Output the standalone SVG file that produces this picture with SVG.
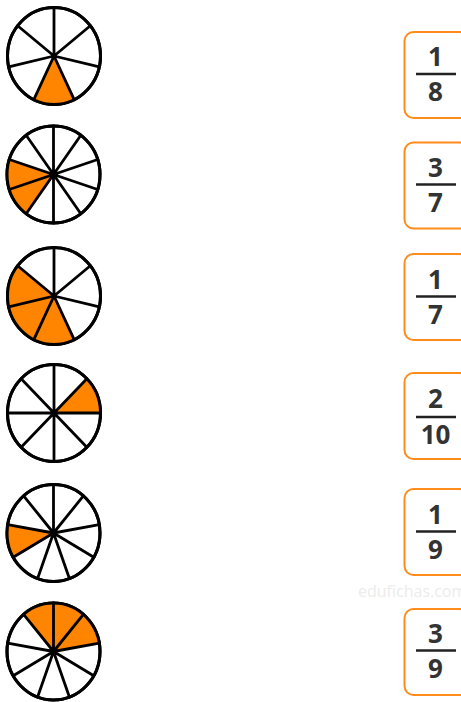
<svg xmlns="http://www.w3.org/2000/svg" width="461" height="702" viewBox="0 0 461 702">
<style>
.rim{fill:#fff;stroke:#000;stroke-width:3}
.sp{stroke:#000;stroke-width:2.8;fill:none;stroke-linecap:round}
.sh{fill:#ff8400;stroke:none}
.box{fill:#fff;stroke:#ff8c1a;stroke-width:2}
.bar{stroke:#222;stroke-width:2.6}
.dg{font-family:"Open Sans","DejaVu Sans",sans-serif;font-weight:bold;font-size:26px;fill:#333;text-anchor:middle}
.wm{font-family:"Open Sans","DejaVu Sans",sans-serif;font-size:16px;fill:#ececec}
</style>
<rect width="461" height="702" fill="#fff"/>
<text class="wm" x="358" y="597">edufichas.com</text>
<g id="pie1">
<ellipse class="rim" cx="54" cy="56" rx="46.5" ry="48.5"/>
<path class="sh" d="M54,56 L74.18,99.70 A46.5,48.5 0 0 1 33.82,99.70 Z"/>
<path class="sp" d="M54,56 L54,7.5 M54,56 L90.35,25.76 M54,56 L99.33,66.79 M54,56 L74.18,99.70 M54,56 L33.82,99.70 M54,56 L8.67,66.79 M54,56 L17.65,25.76"/>
<ellipse cx="54" cy="56" rx="46.5" ry="48.5" fill="none" stroke="#000" stroke-width="3"/>
</g>
<g id="pie2">
<ellipse class="rim" cx="53.5" cy="174.5" rx="46.5" ry="48.5"/>
<path class="sh" d="M53.5,174.5 L26.17,213.74 A46.5,48.5 0 0 1 9.27,159.51 Z"/>
<path class="sp" d="M53.5,126 L53.5,223 M80.83,135.26 L26.17,213.74 M97.73,159.51 L9.27,189.49 M97.73,189.49 L9.27,159.51 M80.83,213.74 L26.17,135.26"/>
<ellipse cx="53.5" cy="174.5" rx="46.5" ry="48.5" fill="none" stroke="#000" stroke-width="3"/>
</g>
<g id="pie3">
<ellipse class="rim" cx="54" cy="296" rx="46.5" ry="48.5"/>
<path class="sh" d="M54,296 L74.18,339.70 A46.5,48.5 0 0 1 17.65,265.76 Z"/>
<path class="sp" d="M54,296 L54,247.5 M54,296 L90.35,265.76 M54,296 L99.33,306.79 M54,296 L74.18,339.70 M54,296 L33.82,339.70 M54,296 L8.67,306.79 M54,296 L17.65,265.76"/>
<ellipse cx="54" cy="296" rx="46.5" ry="48.5" fill="none" stroke="#000" stroke-width="3"/>
</g>
<g id="pie4">
<ellipse class="rim" cx="54" cy="413" rx="46.5" ry="48.5"/>
<path class="sh" d="M54,413 L86.88,378.71 A46.5,48.5 0 0 1 100.5,413 Z"/>
<path class="sp" d="M100.5,413 L7.5,413 M86.88,447.29 L21.12,378.71 M54,461.5 L54,364.5 M21.12,447.29 L86.88,378.71"/>
<ellipse cx="54" cy="413" rx="46.5" ry="48.5" fill="none" stroke="#000" stroke-width="3"/>
</g>
<g id="pie5">
<ellipse class="rim" cx="53.5" cy="533" rx="46.5" ry="48.5"/>
<path class="sh" d="M53.5,533 L13.23,557.25 A46.5,48.5 0 0 1 7.71,524.58 Z"/>
<path class="sp" d="M53.5,533 L53.5,484.5 M53.5,533 L83.39,495.85 M53.5,533 L99.29,524.58 M53.5,533 L93.77,557.25 M53.5,533 L69.40,578.57 M53.5,533 L37.60,578.57 M53.5,533 L13.23,557.25 M53.5,533 L7.71,524.58 M53.5,533 L23.61,495.85"/>
<ellipse cx="53.5" cy="533" rx="46.5" ry="48.5" fill="none" stroke="#000" stroke-width="3"/>
</g>
<g id="pie6">
<ellipse class="rim" cx="53.5" cy="651.5" rx="46.5" ry="48.5"/>
<path class="sh" d="M53.5,651.5 L23.61,614.35 A46.5,48.5 0 0 1 99.29,643.08 Z"/>
<path class="sp" d="M53.5,651.5 L53.5,603 M53.5,651.5 L83.39,614.35 M53.5,651.5 L99.29,643.08 M53.5,651.5 L93.77,675.75 M53.5,651.5 L69.40,697.07 M53.5,651.5 L37.60,697.07 M53.5,651.5 L13.23,675.75 M53.5,651.5 L7.71,643.08 M53.5,651.5 L23.61,614.35"/>
<ellipse cx="53.5" cy="651.5" rx="46.5" ry="48.5" fill="none" stroke="#000" stroke-width="3"/>
</g>
<g id="frac1">
<rect class="box" x="404.5" y="32" width="64" height="86" rx="9"/>
<line class="bar" x1="416" y1="74" x2="456" y2="74"/>
<text class="dg" x="435.5" y="66">1</text>
<text class="dg" x="435.5" y="101">8</text>
</g>
<g id="frac2">
<rect class="box" x="404.5" y="142.5" width="64" height="86" rx="9"/>
<line class="bar" x1="416" y1="184.5" x2="456" y2="184.5"/>
<text class="dg" x="435.5" y="176.5">3</text>
<text class="dg" x="435.5" y="211.5">7</text>
</g>
<g id="frac3">
<rect class="box" x="404.5" y="254" width="64" height="86" rx="9"/>
<line class="bar" x1="416" y1="296.5" x2="456" y2="296.5"/>
<text class="dg" x="435.5" y="288.5">1</text>
<text class="dg" x="435.5" y="323.5">7</text>
</g>
<g id="frac4">
<rect class="box" x="404.5" y="373" width="64" height="86" rx="9"/>
<line class="bar" x1="416" y1="417" x2="456" y2="417"/>
<text class="dg" x="435.5" y="408">2</text>
<text class="dg" x="435.5" y="444">10</text>
</g>
<g id="frac5">
<rect class="box" x="404.5" y="489" width="64" height="86" rx="9"/>
<line class="bar" x1="416" y1="531.5" x2="456" y2="531.5"/>
<text class="dg" x="435.5" y="523.5">1</text>
<text class="dg" x="435.5" y="558.5">9</text>
</g>
<g id="frac6">
<rect class="box" x="404.5" y="609" width="64" height="86" rx="9"/>
<line class="bar" x1="416" y1="650.5" x2="456" y2="650.5"/>
<text class="dg" x="435.5" y="642.5">3</text>
<text class="dg" x="435.5" y="677.5">9</text>
</g>
<g id="connectors"></g>
</svg>
